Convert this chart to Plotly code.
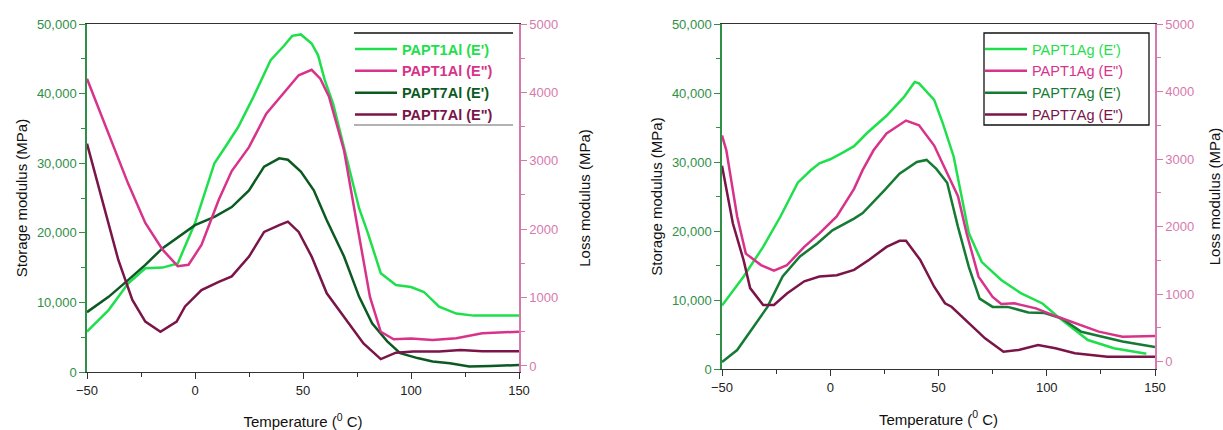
import plotly.graph_objects as go

# ---------------- Data: left panel (Al) ----------------
al1_E_T = [-50,-40,-31,-23,-15,-8,0,5,9,15,20,27,35,41,45,49,54,57,60,64,68,72,76,80,86,93,100,106,113,121,129,140,150]
al1_E_S = [5800,8900,12700,14900,15000,15600,21400,26000,30000,32800,35200,39500,44800,46800,48300,48500,47200,45500,42000,38500,33500,28500,23500,20000,14200,12500,12200,11500,9400,8400,8100,8100,8100]

al1_L_T = [-50,-37,-31,-23,-15,-8,-3,3,11,17,25,33,41,48,54,58,62,66,69,73,78,81,86,92,100,110,121,133,150]
al1_L_V = [4200,3160,2670,2090,1700,1460,1480,1770,2430,2850,3200,3690,3985,4250,4330,4200,3940,3500,3150,2430,1550,1010,500,390,400,380,405,480,500]

al7_E_T = [-50,-40,-31,-23,-15,-8,0,9,17,25,32,39,43,49,55,61,69,76,82,89,95,103,110,118,127,137,150]
al7_E_S = [8600,10800,13200,15400,17800,19400,21100,22300,23700,26100,29500,30700,30500,28800,26100,21800,16600,10800,7000,4400,2700,2000,1500,1250,800,850,1000]

al7_L_T = [-50,-43,-35.5,-29,-23,-16,-8.5,-4.6,3,11,17,25,32,39,43,48,54,61,69,78,86,93,101,113,123,133,150]
al7_L_V = [3250,2430,1550,965,650,500,650,870,1110,1230,1310,1600,1960,2060,2110,1960,1600,1063,720,330,100,195,210,210,235,215,215]

# ---------------- Data: right panel (Ag) ----------------
ag1_E_T = [-50,-40,-31,-23,-15,-9,-5,0,6,11,17,26,34,39,41,48,52,57,61,64,70,79,88,98,105,112,119,131,146]
ag1_E_S = [9200,13400,17700,22100,27000,28800,29800,30400,31400,32300,34200,36700,39400,41600,41400,39000,35600,30800,24500,19700,15500,12900,11000,9500,7600,5900,4200,3000,2200]

ag1_L_T = [-50,-48,-43,-39,-32,-26,-20,-12,-5,3,11,15,20,26,35,41,48,54,59,63,68.5,75,79,85,95,105,115,124,135,150]
ag1_L_V = [3350,3130,2150,1600,1430,1350,1430,1700,1900,2150,2560,2840,3130,3380,3570,3500,3200,2800,2450,1900,1260,960,855,865,790,665,545,445,370,380]

ag7_E_T = [-50,-43,-35.5,-29,-22,-14,-6,1,11,15,25,32,40,44.5,49,54,59,64,69,75,82,91.5,99,107,116,125,135,150]
ag7_E_S = [1000,2750,6100,9000,13400,16300,18200,20100,21800,22600,25900,28300,30000,30300,29000,27000,20600,14800,10200,9000,9000,8200,8100,7300,5400,4700,4000,3200]

ag7_L_T = [-50,-45,-40,-37,-31,-26,-20,-12,-5,3,11,18,26,32,35,41.5,48,53,56,64,71.5,80,87,96,104,113,128,150]
ag7_L_V = [2900,2050,1500,1090,840,840,1010,1190,1260,1280,1360,1510,1700,1790,1790,1510,1110,865,814,570,346,148,173,247,198,124,74,74]

names_left = ["PAPT1Al (E')", 'PAPT1Al (E")', "PAPT7Al (E')", 'PAPT7Al (E")']
names_right = ["PAPT1Ag (E')", 'PAPT1Ag (E")', "PAPT7Ag (E')", 'PAPT7Ag (E")']

storage_ticks = [0, 10000, 20000, 30000, 40000, 50000]
storage_text = ["0", "10,000", "20,000", "30,000", "40,000", "50,000"]
loss_ticks = [0, 1000, 2000, 3000, 4000, 5000]
temp_ticks = [-50, 0, 50, 100, 150]
temp_text = ["\u221250", "0", "50", "100", "150"]

# ---------------- Styles ----------------
C_G1 = "#1fe04c"
C_P1 = "#d8338a"
C_G7 = "#0b5a22"
C_G7b = "#157a33"
C_P7 = "#7a1449"
AX_G = "#2f8f47"
AX_P = "#d67aae"
FONT = "Liberation Sans, Arial, sans-serif"

fig = go.Figure()

def span(txt, col, bold):
    s = f"<span style='color:{col}'>{txt}</span>"
    return f"<b>{s}</b>" if bold else s

left_series = [
    (al1_E_T, al1_E_S, "y", C_G1),
    (al1_L_T, al1_L_V, "y2", C_P1),
    (al7_E_T, al7_E_S, "y", C_G7),
    (al7_L_T, al7_L_V, "y2", C_P7),
]
for (t, v, ya, c), nm in zip(left_series, names_left):
    fig.add_trace(go.Scatter(x=t, y=v, xaxis="x", yaxis=ya, mode="lines",
                             line=dict(color=c, width=2.5), name=span(nm, c, True),
                             legend="legend"))

right_series = [
    (ag1_E_T, ag1_E_S, "y3", C_G1),
    (ag1_L_T, ag1_L_V, "y4", C_P1),
    (ag7_E_T, ag7_E_S, "y3", C_G7b),
    (ag7_L_T, ag7_L_V, "y4", C_P7),
]
for (t, v, ya, c), nm in zip(right_series, names_right):
    fig.add_trace(go.Scatter(x=t, y=v, xaxis="x2", yaxis=ya, mode="lines",
                             line=dict(color=c, width=2.5), name=span(nm, c, False),
                             legend="legend2"))

W, H = 1223, 430
dxL = [87 / W, 519 / W]
dxR = [722 / W, 1155 / W]
dyL = [(H - 372) / H, (H - 24) / H]
dyR = [(H - 369) / H, (H - 24) / H]

tickf = dict(family=FONT, size=13)
titlef = dict(family=FONT, size=15, color="#111")

def xax(domain, anchor):
    return dict(domain=domain, anchor=anchor, range=[-50, 150], tickvals=temp_ticks,
                ticktext=temp_text, automargin=False,
                showgrid=False, zeroline=False, showline=True, linecolor="#333", linewidth=1.3,
                mirror=True, ticks="outside", ticklen=6, tickcolor="#333",
                minor=dict(tickvals=[-25, 25, 75, 125], ticks="outside", ticklen=4, tickcolor="#333"),
                tickfont=dict(tickf, color="#222"),
                title=dict(text="Temperature (<sup>0</sup> C)", font=titlef, standoff=20))

def xtop(domain, anchor, over):
    return dict(domain=domain, anchor=anchor, overlaying=over, side="top", range=[-50, 150],
                tickvals=[-25, 0, 25, 50, 75, 100, 125], showticklabels=False, ticks="inside",
                ticklen=5, tickcolor="#333", showgrid=False, zeroline=False, showline=False,
                automargin=False)

def yst(domain, anchor):
    return dict(domain=domain, anchor=anchor, range=[0, 50000], tickvals=storage_ticks,
                ticktext=storage_text, automargin=False, showgrid=False, zeroline=False,
                showline=True, linecolor=AX_G, linewidth=1.5, ticks="outside", ticklen=6,
                tickcolor=AX_G,
                minor=dict(tickvals=[5000, 15000, 25000, 35000, 45000], ticks="outside",
                           ticklen=4, tickcolor=AX_G),
                tickfont=dict(tickf, color=AX_G),
                title=dict(text="Storage modulus (MPa)", font=titlef, standoff=6))

def ylo(anchor, over, rng, standoff):
    return dict(anchor=anchor, overlaying=over, side="right", range=rng, tickvals=loss_ticks,
                automargin=False, showgrid=False, zeroline=False, showline=True,
                linecolor=AX_P, linewidth=1.5, ticks="outside", ticklen=6, tickcolor=AX_P,
                minor=dict(tickvals=[500, 1500, 2500, 3500, 4500], ticks="outside",
                           ticklen=4, tickcolor=AX_P),
                tickfont=dict(tickf, color=AX_P),
                title=dict(text="Loss modulus (MPa)", font=titlef, standoff=standoff))

legf = dict(family=FONT, size=14.5)
fig.update_layout(
    width=W, height=H, margin=dict(l=0, r=0, t=0, b=0, autoexpand=False),
    paper_bgcolor="white", plot_bgcolor="white",
    xaxis=xax(dxL, "y"), xaxis3=xtop(dxL, "y", "x"),
    yaxis=yst(dyL, "x"), yaxis2=ylo("x", "y", [-88, 5000], 22),
    xaxis2=xax(dxR, "y3"), xaxis4=xtop(dxR, "y3", "x2"),
    yaxis3=yst(dyR, "x2"), yaxis4=ylo("x2", "y3", [-108, 5000], 16),
    legend=dict(x=350 / W, y=(H - 33) / H, xanchor="left", yanchor="top",
                bgcolor="rgba(0,0,0,0)", borderwidth=0, font=legf, itemwidth=42,
                tracegroupgap=0),
    legend2=dict(x=980 / W, y=(H - 33) / H, xanchor="left", yanchor="top",
                 bgcolor="rgba(0,0,0,0)", borderwidth=0, font=legf, itemwidth=42,
                 tracegroupgap=0),
    shapes=[
        dict(type="line", xref="paper", yref="paper", x0=354 / W, x1=513 / W,
             y0=(H - 33) / H, y1=(H - 33) / H, line=dict(color="#111", width=1.3)),
        dict(type="line", xref="paper", yref="paper", x0=354 / W, x1=513 / W,
             y0=(H - 125) / H, y1=(H - 125) / H, line=dict(color="#666", width=1)),
        dict(type="rect", xref="paper", yref="paper", x0=984 / W, x1=1149 / W,
             y0=(H - 125) / H, y1=(H - 33) / H, line=dict(color="#111", width=1.3)),
    ],
    showlegend=True,
)

fig.write_html("out.html")
